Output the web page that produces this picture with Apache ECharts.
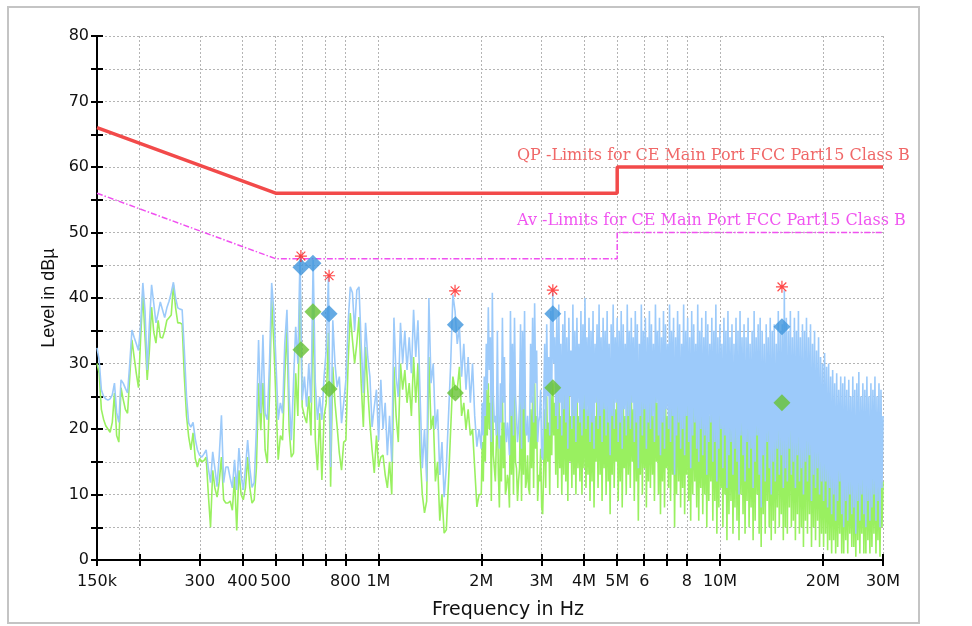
<!DOCTYPE html>
<html>
<head>
<meta charset="utf-8">
<title>Conducted emission scan</title>
<script src="https://cdn.jsdelivr.net/npm/echarts@6/dist/echarts.min.js"></script>
<style>
html, body { margin: 0; padding: 0; background: #fff; }
#chart { width: 972px; height: 626px; }
</style>
</head>
<body>
<div id="chart"></div>
<script>
// receiver sweep: two bands, log spaced (the last band includes its stop frequency)
const sweepBands = [
  { startHz: 150000, stopHz: 2000000, points: 176 },
  { startHz: 2000000, stopHz: 30000000, points: 400 }
];

// preview scan, peak detector (dBµV), 150k..2M, one line = 10 points
const peakLow = [
  32.4, 30.5, 26, 25, 24.6, 24.4, 24.6, 25.2, 27, 22.5,
  21, 27.5, 27, 26.2, 25.5, 30, 35.1, 34, 33, 32,
  36, 42.3, 38, 29, 36, 42, 39.2, 36.2, 37.7, 39.4,
  38.2, 37, 38.5, 39.5, 40.8, 42.4, 40, 38.5, 38.3, 38.2,
  32, 25, 20.9, 20.3, 21, 18.5, 16.8, 16, 15.7, 16.2,
  16.8, 14, 11.8, 16.5, 14, 11.2, 16, 22.1, 11.8, 14.2,
  14.2, 12.5, 11, 15.3, 10.7, 17.1, 13, 10.7, 14, 18.3,
  14, 11.1, 11.8, 20, 33.6, 22.4, 34.4, 22.4, 21.4, 30,
  42.3, 38, 30, 21.4, 24, 22.4, 33, 38.2, 25, 18.3,
  27, 35.6, 30, 46.6, 24.4, 28, 23.4, 30, 24, 45.8,
  27, 21.4, 24.9, 21.4, 28, 32, 43.2, 14.2, 36.6, 30,
  26.4, 28, 20.9, 24, 27.5, 36, 41.7, 40.8, 35, 41.2,
  41.7, 33, 25.5, 36.2, 31, 28, 20.3, 23.4, 26, 18.3,
  27.5, 20, 24, 16, 22, 15, 37, 28, 24.9, 36.2,
  30, 35, 29, 34, 28.5, 38.2, 31, 36.6, 25, 14,
  20, 12, 40, 27, 30, 20, 23, 13, 18, 9.6,
  14.2, 22, 30, 40.5, 38, 33, 35.6, 28, 33, 26,
  31, 24, 30, 22, 17.3, 20
];

// preview scan, peak detector (dBµV), 2M..30M
const peakHigh = [
  17, 24, 19, 28, 22, 33, 26, 38.6, 29, 34,
  18, 40.8, 25, 21, 22, 19, 35, 20, 17, 27,
  21, 37, 24, 31, 20, 18, 21, 19, 16, 38,
  22, 33, 19, 37, 25, 22, 18, 20, 24, 36,
  17, 35, 23, 38, 20, 19, 22, 18, 19, 33,
  24, 37, 21, 39.2, 27, 32, 18, 21, 22, 26,
  16, 15.3, 24, 33, 20, 36, 25, 31, 19, 38,
  26, 40.8, 30, 34, 22, 37, 20, 39, 24, 33,
  19, 36, 23, 38, 21, 34, 17, 37, 25, 32,
  20, 39, 22, 35, 18, 37, 24, 33, 21, 38,
  19, 36, 23, 40, 20, 34, 22, 37, 18, 35,
  21, 38, 17, 33, 24, 36, 20, 39, 22, 34,
  18, 37, 23, 35, 19, 38, 21, 33, 16, 36,
  22, 39, 20, 34, 24, 37, 18, 35, 21, 38,
  17, 36, 23, 33, 19, 39, 22, 35, 20, 37,
  24, 34, 18, 38, 21, 36, 14, 33, 22, 39,
  19, 35, 23, 37, 17, 34, 21, 38, 20, 36,
  22, 33, 18, 39, 24, 35, 19, 37, 16, 34,
  21, 38, 17, 36, 23, 33, 20, 39, 18, 35,
  22, 37, 13, 34, 19, 38, 21, 36, 17, 33,
  20, 39, 16, 35, 22, 37, 18, 34, 14, 38,
  19, 36, 21, 33, 17, 39, 15, 35, 20, 37,
  16, 34, 19, 38, 13, 36, 18, 33, 21, 37,
  15, 35, 18, 39, 12, 34, 17, 36, 20, 33,
  14, 37, 19, 35, 11, 38, 16, 34, 18, 36,
  13, 33, 17, 37, 15, 35, 10, 38, 19, 34,
  16, 36, 12, 34, 18, 37, 14, 33, 17, 35,
  11, 38, 15, 34, 19, 36, 13, 37, 8, 35,
  16, 33, 12, 36, 18, 34, 14, 37, 10, 35,
  15, 36, 12, 33, 17, 38, 13, 35, 16, 36,
  11, 41.2, 14, 37, 12, 35, 17, 38, 13, 34,
  15, 37, 11, 35, 16, 38, 12, 34, 14, 36,
  10, 35, 15, 37, 12, 34, 16, 36, 9, 33,
  13, 35, 11, 32, 14, 34, 10, 31, 12, 30,
  9, 31.6, 12, 29.5, 8, 30, 11, 28, 7, 29,
  10, 27, 6, 28.5, 9, 26, 12, 28, 7, 27,
  5, 28, 9, 26, 6, 27.5, 10, 25, 7, 28,
  8, 26, 4, 27, 9, 28.7, 6, 25, 10, 27,
  7, 26, 5, 28, 9, 25, 6, 27, 8, 26,
  10, 28, 6, 25, 9, 27, 5, 26, 11, 22
];

// preview scan, average detector (dBµV), 150k..2M
const avgLow = [
  30, 28.5, 23, 21.5, 20.5, 20, 19.5, 21, 25.5, 19,
  18, 26.3, 24.5, 23, 22.4, 28, 33.6, 31, 28.5, 26.3,
  34, 40.8, 34, 27.5, 32, 38.6, 34.8, 33.1, 36.6, 34,
  33.9, 35, 36.6, 37, 37.4, 42, 38.5, 36.2, 36.2, 36,
  28, 22, 18.8, 16.8, 19.4, 15.5, 14.2, 15.5, 15, 15.2,
  15.7, 10, 5, 13.7, 11, 9.6, 12, 15.7, 9.2, 8.7,
  8.7, 9, 7.6, 12.7, 4.5, 13.7, 10, 9.2, 11, 15.7,
  11, 8.7, 9.2, 14, 27, 19.8, 27, 16.8, 14.8, 25,
  39.7, 33, 24, 15.3, 19, 18.3, 28, 35.6, 20, 15.7,
  16.3, 28.5, 22, 42.7, 23.4, 22, 20.9, 25, 19, 39.5,
  18.3, 13.7, 22.4, 12.2, 22, 24, 34.7, 11.2, 29.5, 24,
  20.3, 16.3, 13.7, 18, 18.3, 30, 37.7, 33.6, 30, 33.1,
  37.1, 27, 20.3, 32.5, 26, 20.9, 16.8, 13.3, 19, 14.2,
  15.7, 16, 13, 11, 15, 10, 29.5, 22, 18, 30,
  26, 29, 24, 27, 22, 31, 24, 30, 16, 10,
  7.2, 9, 31, 20, 22, 12, 15, 6, 10, 4.1,
  4.6, 12, 20, 28, 26, 26, 29.5, 22, 24, 20,
  23, 19, 20, 14, 8.1, 10
];

// preview scan, average detector (dBµV), 2M..30M
const avgHigh = [
  10, 18, 12, 22, 15, 26, 19, 27, 20, 24,
  9, 30, 16, 14, 12, 12, 24, 13, 8, 19,
  12, 25, 14, 21, 10, 11, 13, 12, 8, 27,
  13, 23, 10, 26, 15, 14, 9, 12, 14, 25,
  9, 24, 13, 27, 11, 12, 16, 11, 10, 23,
  14, 25, 11, 27, 17, 22, 9, 13, 12, 17,
  8, 7, 14, 23, 11, 25, 15, 21, 10, 26,
  16, 27, 19, 24, 13, 26, 11, 27, 14, 22,
  10, 25, 13, 27, 12, 23, 9, 26, 15, 22,
  11, 27, 13, 24, 10, 26, 14, 22, 12, 27,
  10, 25, 14, 28, 11, 23, 13, 26, 9, 24,
  12, 27, 8, 22, 15, 25, 11, 28, 13, 23,
  9, 26, 14, 24, 10, 27, 12, 22, 7, 25,
  13, 28, 11, 23, 15, 26, 9, 24, 12, 27,
  8, 25, 14, 22, 10, 28, 13, 24, 11, 26,
  15, 23, 9, 27, 12, 25, 6, 22, 13, 28,
  10, 24, 14, 26, 8, 23, 12, 27, 11, 25,
  13, 22, 9, 28, 15, 24, 10, 26, 7, 23,
  12, 27, 8, 25, 14, 22, 11, 28, 9, 24,
  13, 26, 5, 23, 10, 27, 12, 25, 8, 22,
  11, 28, 7, 24, 13, 26, 9, 23, 6, 27,
  10, 25, 12, 22, 8, 28, 6, 24, 11, 26,
  7, 23, 10, 27, 5, 25, 9, 22, 12, 26,
  6, 24, 9, 28, 4, 23, 8, 25, 11, 22,
  5, 26, 10, 24, 3, 27, 7, 23, 9, 25,
  4, 22, 8, 26, 6, 24, 3, 27, 10, 23,
  7, 25, 4, 23, 9, 26, 5, 22, 8, 24,
  3, 27, 6, 23, 10, 25, 4, 26, 2, 24,
  7, 22, 4, 25, 9, 23, 5, 26, 3, 24,
  6, 25, 4, 22, 8, 27, 5, 24, 7, 25,
  3, 26, 5, 26, 4, 24, 8, 27, 5, 23,
  6, 26, 3, 24, 7, 27, 4, 23, 5, 25,
  2, 24, 6, 26, 4, 23, 7, 25, 2, 22,
  5, 24, 3, 21, 6, 23, 2, 20, 4, 19,
  2, 20, 4, 18, 1.5, 19, 3, 17, 1, 18,
  3, 16, 1, 17, 2, 15, 4, 17, 1, 16,
  1, 17, 3, 15, 1, 16, 4, 14, 2, 17,
  2, 15, 0.5, 16, 3, 17, 1, 14, 4, 16,
  1, 15, 1, 17, 3, 14, 1, 16, 2, 15,
  4, 17, 1, 14, 3, 16, 0.5, 15, 5, 12
];

// limit lines (MHz / dBµV)
const limitFreq = [0.15, 0.5, 5, 5, 30];
const qpLimit = [66, 56, 56, 60, 60];
const avLimit = [56, 46, 46, 50, 50];

// final measurement results (MHz / dBµV)
const finalFreq = [0.593, 0.643, 0.717, 1.68, 3.24, 15.18];
const finalQP = [44.7, 45.3, 37.6, 35.9, 37.6, 35.6];
const finalAV = [32.1, 37.9, 26.1, 25.5, 26.3, 24.0];
const peakMarkFreq = [0.593, 0.717, 1.676, 3.24, 15.18];
const peakMarkLevel = [46.4, 43.4, 41.1, 41.2, 41.7];

// x axis ticks (MHz) and their texts
const tickFreq = [0.15, 0.2, 0.3, 0.4, 0.5, 0.6, 0.7, 0.8, 1, 2, 3, 4, 5, 6, 7, 8, 10, 20, 30];
const tickText = ['150k', '', '300', '400', '500', '', '', '800', '1M', '2M', '3M', '4M', '5M', '6', '', '8', '10M', '20M', '30M'];

const qpTitle = 'QP -Limits for CE Main Port FCC Part15 Class B';
const avTitle = 'Av -Limits for CE Main Port FCC Part15 Class B';

const lg = Math.log10;
const freqHz = [];
sweepBands.forEach((b, k) => {
  const last = k === sweepBands.length - 1;
  const steps = last ? b.points - 1 : b.points;
  for (let i = 0; i < b.points; i++) {
    freqHz.push(b.startHz * Math.pow(b.stopHz / b.startHz, i / steps));
  }
});
const peakLevel = peakLow.concat(peakHigh);
const avgLevel = avgLow.concat(avgHigh);
const toPts = (fs, vs, scale) => fs.map((f, i) => [lg(f * scale), vs[i]]);

const tickPos = tickFreq.map(f => lg(f * 1e6));
const labelPos = tickPos.filter((p, i) => tickText[i] !== '');
function freqLabel(v) {
  for (let i = 0; i < tickPos.length; i++) {
    if (Math.abs(tickPos[i] - v) < 1e-6) return tickText[i];
  }
  return '';
}

const xMin = lg(sweepBands[0].startHz), xMax = lg(sweepBands[sweepBands.length - 1].stopHz);
const fontAxis = 'DejaVu Sans';
const asterisk = 'path://M4.5 0H5.5V10H4.5Z M0 4.5H10V5.5H0Z M1 1.7L1.7 1L9 8.3L8.3 9Z M8.3 1L9 1.7L1.7 9L1 8.3Z';

var myChart = echarts.init(document.getElementById('chart'));
var option = {
  animation: false,
  backgroundColor: '#fff',
  grid: { left: 97, right: 89, top: 36, bottom: 66 },
  graphic: [
    {
      type: 'rect', z: -10, silent: true,
      shape: { x: 8, y: 7, width: 911, height: 616 },
      style: { fill: 'none', stroke: '#c4c4c4', lineWidth: 2 }
    },
    {
      type: 'text', left: 517, top: 148, silent: true,
      style: { text: qpTitle, fill: '#f06868', font: '16px "DejaVu Serif"' }
    },
    {
      type: 'text', left: 517, top: 213, silent: true,
      style: { text: avTitle, fill: '#f055f0', font: '16px "DejaVu Serif"' }
    }
  ],
  xAxis: [
    {
      type: 'value', min: xMin, max: xMax,
      name: 'Frequency in Hz', nameLocation: 'middle', nameGap: 41,
      nameTextStyle: { fontFamily: fontAxis, fontSize: 19, color: '#111', padding: [0, 0, 0, 36] },
      axisLine: { onZero: false, lineStyle: { color: '#000', width: 2 } },
      axisTick: { customValues: tickPos, length: 6, lineStyle: { color: '#000', width: 2 } },
      axisLabel: {
        customValues: labelPos, formatter: freqLabel, margin: 14, hideOverlap: false,
        fontFamily: fontAxis, fontSize: 16, color: '#111'
      },
      splitLine: { show: true, lineStyle: { color: '#b4b4b4', type: [2, 2], width: 1 } }
    },
    {
      type: 'value', min: xMin, max: xMax, position: 'bottom',
      axisLine: { show: false },
      axisTick: { customValues: tickPos, inside: true, length: 6, lineStyle: { color: '#000', width: 2 } },
      axisLabel: { show: false },
      splitLine: { show: false }
    }
  ],
  yAxis: [
    {
      type: 'value', min: 0, max: 80, interval: 5,
      name: 'Level in dBµ', nameLocation: 'middle', nameGap: 39,
      nameTextStyle: { fontFamily: 'Liberation Sans', fontSize: 18, color: '#111' },
      axisLine: { show: true, onZero: false, lineStyle: { color: '#000', width: 2 } },
      axisTick: { show: true, length: 6, lineStyle: { color: '#000', width: 2 } },
      axisLabel: {
        margin: 8, fontFamily: fontAxis, fontSize: 16, color: '#111',
        formatter: v => (v % 10 === 0 ? String(v) : '')
      },
      splitLine: { show: true, lineStyle: { color: '#b4b4b4', type: [2, 2], width: 1 } }
    },
    {
      type: 'value', min: 0, max: 80, interval: 5, position: 'left',
      axisLine: { show: false },
      axisTick: { show: true, inside: true, length: 6, lineStyle: { color: '#000', width: 2 } },
      axisLabel: { show: false },
      splitLine: { show: false }
    }
  ],
  series: [
    {
      name: 'Av limit', type: 'line', silent: true, symbol: 'none', z: 2,
      data: toPts(limitFreq, avLimit, 1e6),
      lineStyle: { color: '#f050f0', width: 1.5, type: [6, 2, 1.5, 2] }
    },
    {
      name: 'QP limit', type: 'line', silent: true, symbol: 'none', z: 2,
      data: toPts(limitFreq, qpLimit, 1e6),
      lineStyle: { color: '#f24a4a', width: 3.5 }
    },
    {
      name: 'Average', type: 'line', silent: true, symbol: 'none', z: 3,
      sampling: 'none',
      data: toPts(freqHz, avgLevel, 1),
      lineStyle: { color: '#99f060', width: 1.6 }
    },
    {
      name: 'Peak', type: 'line', silent: true, symbol: 'none', z: 4,
      sampling: 'none',
      data: toPts(freqHz, peakLevel, 1),
      lineStyle: { color: '#9ccafa', width: 1.6 }
    },
    {
      name: 'Final AV', type: 'scatter', silent: true, z: 5,
      symbol: 'diamond', symbolSize: 17,
      data: toPts(finalFreq, finalAV, 1e6),
      itemStyle: { color: '#66c233' }
    },
    {
      name: 'Final QP', type: 'scatter', silent: true, z: 6,
      symbol: 'diamond', symbolSize: 17,
      data: toPts(finalFreq, finalQP, 1e6),
      itemStyle: { color: '#3e95dc' }
    },
    {
      name: 'Peaks', type: 'scatter', silent: true, z: 7,
      symbol: asterisk, symbolSize: 12,
      data: toPts(peakMarkFreq, peakMarkLevel, 1e6),
      itemStyle: { color: '#ff1a1a' }
    }
  ]
};
myChart.setOption(option);
</script>
</body>
</html>
